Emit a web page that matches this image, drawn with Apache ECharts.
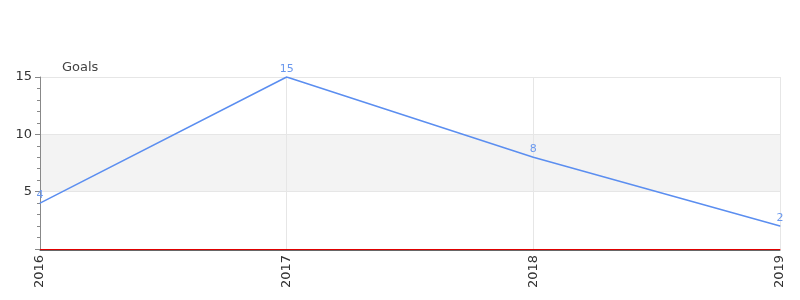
<!DOCTYPE html>
<html><head><meta charset="utf-8">
<script src="https://cdn.jsdelivr.net/npm/echarts@6/dist/echarts.min.js"></script>
<style>html,body{margin:0;padding:0;background:#fff}#c{width:800px;height:300px}</style>
</head><body><div id="c"></div>
<script>
const categories = ['2016', '2017', '2018', '2019'];
const goals = [4, 15, 8, 2];
const yTicks = [5, 10, 15];

const chart = echarts.init(document.getElementById('c'), null, {renderer: 'canvas'});
chart.setOption({
  animation: false,
  textStyle: {fontFamily: 'DejaVu Sans'},
  grid: {left: 40, right: 20, top: 77, bottom: 51},
  xAxis: {
    type: 'category',
    data: categories,
    boundaryGap: false,
    axisLine: {lineStyle: {color: '#e00000', width: 1, shadowColor: '#666', shadowOffsetY: 1, shadowBlur: 0}},
    axisTick: {show: false},
    axisLabel: {rotate: 90, color: '#333', fontSize: 13, margin: 6},
    splitLine: {show: true, lineStyle: {color: '#e6e6e6'}}
  },
  yAxis: {
    type: 'value',
    min: 0, max: 15, interval: 5,
    name: 'Goals',
    nameGap: 3,
    nameTextStyle: {color: '#444', fontSize: 13, align: 'left', padding: [0, 0, 0, 22]},
    axisLine: {show: true, lineStyle: {color: '#888'}},
    axisTick: {show: true, length: 5, lineStyle: {color: '#888'}},
    minorTick: {show: true, splitNumber: 5, length: 3, lineStyle: {color: '#888'}},
    axisLabel: {color: '#333', fontSize: 13, margin: 8, formatter: v => yTicks.includes(v) ? String(v) : ''},
    splitLine: {show: true, lineStyle: {color: '#e6e6e6'}},
    splitArea: {show: true, areaStyle: {color: ['#ffffff', '#f3f3f3']}}
  },
  series: [{
    type: 'line',
    data: goals,
    symbol: 'circle',
    symbolSize: 1,
    showSymbol: true,
    lineStyle: {color: '#5b8ef0', width: 1.5},
    itemStyle: {color: '#5b8ef0'},
    label: {show: true, position: 'top', color: '#6a98ee', fontSize: 11, distance: 2}
  }]
});
</script></body></html>
